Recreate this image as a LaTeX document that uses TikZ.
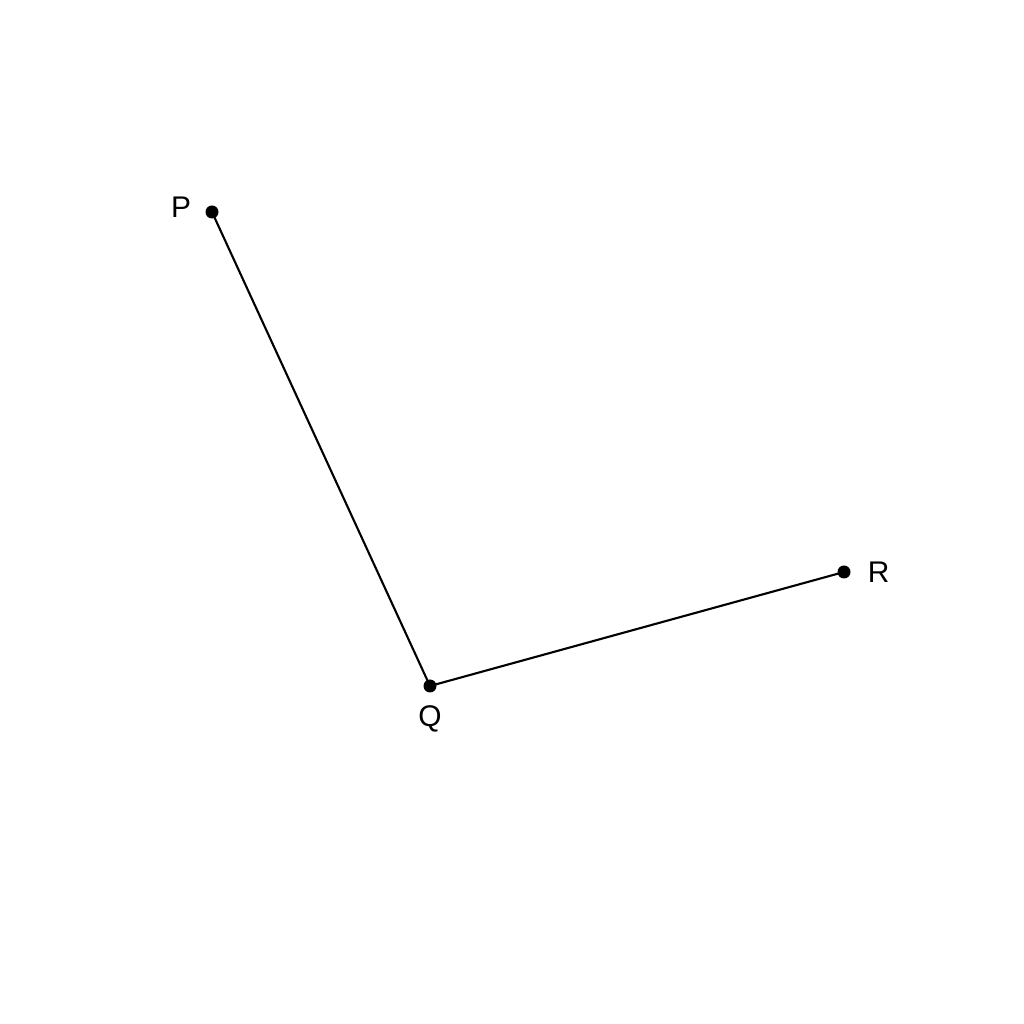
\documentclass[tikz,border=0pt]{standalone}
\usepackage{fontspec}
\setmainfont{Liberation Sans}
\usetikzlibrary{positioning}
\tikzset{pt/.style={circle,fill=black,inner sep=0pt,minimum size=0.13cm},
lbl/.style={inner sep=0pt,font=\fontsize{8.5pt}{10pt}\selectfont}}

\begin{document}
\begin{tikzpicture}
                \useasboundingbox (0,0) rectangle (10.24,10.24);
                \node[pt] (P) at (2.12,8.12) {};
                \node[pt] (Q) at (4.30,3.38) {};
                \node[pt] (R) at (8.44,4.52) {};
                \draw[line width=0.6pt] (P.center) -- (Q.center) -- (R.center);
                \node[lbl,left=0.13cm of P,yshift=0.05cm] (Plbl) {P};
                \node[lbl,below=0.12cm of Q] (Qlbl) {Q};
                \node[lbl,right=0.16cm of R] (Rlbl) {R};
            \end{tikzpicture}
\end{document}
